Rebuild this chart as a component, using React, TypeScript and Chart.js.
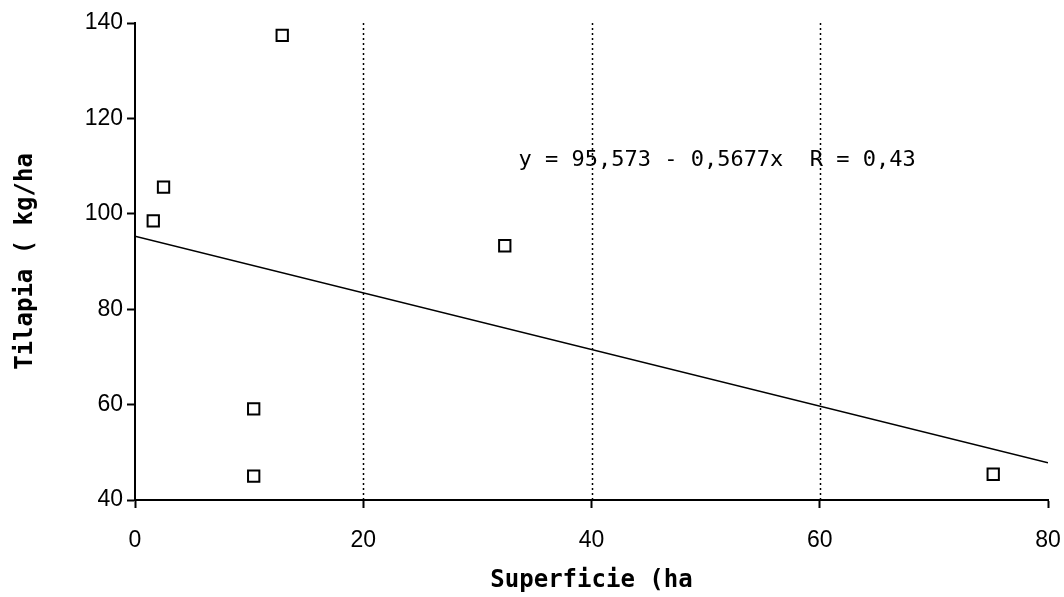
import React, { useEffect, useRef } from "react";
import { Chart, registerables } from "chart.js";

Chart.register(...registerables);

// Observed points: surface (ha) vs tilapia yield (kg/ha)
const surfaceHa = [1.6, 2.5, 10.4, 10.4, 12.9, 32.4, 75.2];
const tilapiaKgHa = [98.5, 105.6, 59.1, 45.0, 137.4, 93.3, 45.4];

// Regression line endpoints
const trendX = [0, 80];
const trendY = [95.3, 47.8];

// Axes
const xMin = 0;
const xMax = 80;
const xStep = 20;
const yMin = 40;
const yMax = 140;
const yStep = 20;
const dottedGridX = [20, 40, 60];

const xTitle = "Superficie (ha";
const yTitle = "Tilapia ( kg/ha";
const equationText = "y = 95,573 - 0,5677x  R = 0,43";
const equationAt = [33.6, 111.2];

export default function App() {
  const canvasRef = useRef<HTMLCanvasElement | null>(null);

  useEffect(() => {
    const canvas = canvasRef.current;
    if (!canvas) return;

    const overlay = {
      id: "overlay",
      beforeDatasetsDraw(chart: any) {
        const { ctx, chartArea, scales } = chart;
        ctx.save();
        ctx.strokeStyle = "#000";
        ctx.lineWidth = 1.5;
        ctx.setLineDash([2, 3]);
        for (const v of dottedGridX) {
          const px = Math.round(scales.x.getPixelForValue(v)) + 0.5;
          ctx.beginPath();
          ctx.moveTo(px, chartArea.top);
          ctx.lineTo(px, chartArea.bottom);
          ctx.stroke();
        }
        ctx.restore();
      },
      afterDatasetsDraw(chart: any) {
        const { ctx, scales } = chart;
        ctx.save();
        ctx.fillStyle = "#000";
        ctx.font = "22px 'DejaVu Sans Mono'";
        ctx.textAlign = "left";
        ctx.textBaseline = "middle";
        ctx.fillText(
          equationText,
          scales.x.getPixelForValue(equationAt[0]),
          scales.y.getPixelForValue(equationAt[1])
        );
        ctx.restore();
      },
    };

    const chart = new Chart(canvas, {
      type: "scatter",
      data: {
        datasets: [
          {
            type: "line",
            data: trendX.map((x, i) => ({ x, y: trendY[i] })),
            borderColor: "#000",
            borderWidth: 1.6,
            pointRadius: 0,
            fill: false,
          } as any,
          {
            data: surfaceHa.map((x, i) => ({ x, y: tilapiaKgHa[i] })),
            pointStyle: "rect",
            pointRadius: 8,
            borderColor: "#000",
            borderWidth: 2,
            backgroundColor: "#fff",
          },
          {
            data: surfaceHa.map((x, i) => ({ x, y: tilapiaKgHa[i] })),
            pointStyle: "circle",
            pointRadius: 1.2,
            borderWidth: 0,
            backgroundColor: "#000",
          },
        ],
      },
      options: {
        animation: false,
        responsive: false,
        events: [],
        layout: { padding: { top: 23, right: 16, left: 0, bottom: 0 } },
        plugins: {
          legend: { display: false },
          tooltip: { enabled: false },
        },
        scales: {
          x: {
            type: "linear",
            min: xMin,
            max: xMax,
            afterFit: (s: any) => {
              s.height = 97;
              s.paddingLeft = 0;
              s.paddingRight = 0;
            },
            ticks: {
              stepSize: xStep,
              color: "#000",
              padding: 19,
              font: { family: "'Liberation Sans'", size: 23 },
            },
            grid: {
              drawOnChartArea: false,
              drawTicks: true,
              tickLength: 8,
              tickColor: "#000",
              tickWidth: 2,
            },
            border: { display: true, color: "#000", width: 2 },
            title: {
              display: true,
              text: xTitle,
              color: "#000",
              padding: { top: 0, bottom: 2 },
              font: { family: "'DejaVu Sans Mono'", size: 24, weight: "bold" },
            },
          },
          y: {
            type: "linear",
            min: yMin,
            max: yMax,
            afterFit: (s: any) => {
              s.width = 135;
              s.paddingTop = 0;
              s.paddingBottom = 0;
            },
            ticks: {
              stepSize: yStep,
              color: "#000",
              padding: 4,
              font: { family: "'Liberation Sans'", size: 23 },
            },
            grid: {
              drawOnChartArea: false,
              drawTicks: true,
              tickLength: 8,
              tickColor: "#000",
              tickWidth: 2,
            },
            border: { display: true, color: "#000", width: 2 },
            title: {
              display: true,
              text: yTitle,
              color: "#000",
              padding: { top: 11, bottom: 0 },
              font: { family: "'DejaVu Sans Mono'", size: 24, weight: "bold" },
            },
          },
        },
      },
      plugins: [overlay],
    });

    return () => chart.destroy();
  }, []);

  return (
    <div style={{ position: "absolute", left: 0, top: 0, width: 1064, height: 597, background: "#fff" }}>
      <canvas ref={canvasRef} width={1064} height={597} style={{ display: "block" }} />
    </div>
  );
}
